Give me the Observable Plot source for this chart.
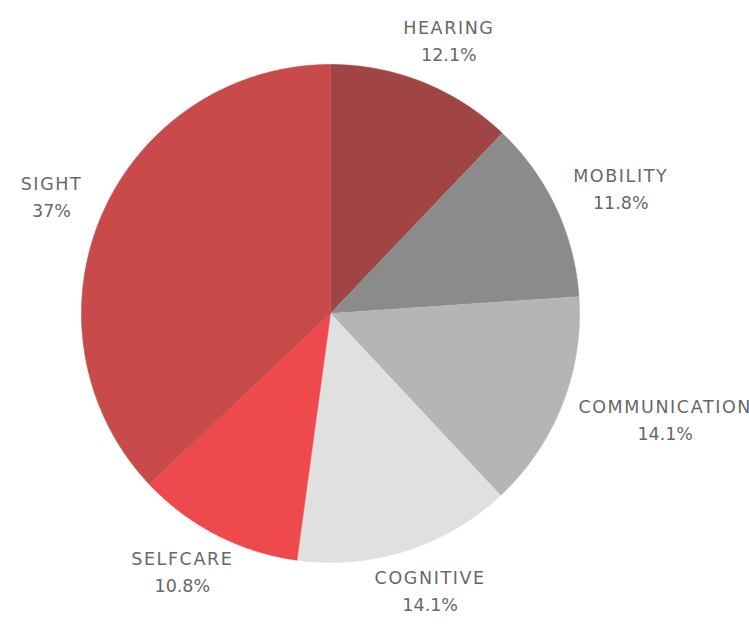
<!DOCTYPE html>
<html><head><meta charset="utf-8">
<script src="https://cdn.jsdelivr.net/npm/d3@7"></script>
<script src="https://cdn.jsdelivr.net/npm/@observablehq/plot@0.6"></script>
<style>body{margin:0;background:#fff;overflow:hidden}</style>
</head><body><div id="chart"></div>
<script>
const categories = ["HEARING", "MOBILITY", "COMMUNICATION", "COGNITIVE", "SELFCARE", "SIGHT"];
const values = [12.1, 11.8, 14.1, 14.1, 10.8, 37];
const valueLabels = ["12.1%", "11.8%", "14.1%", "14.1%", "10.8%", "37%"];
const colors = ["#a04446", "#8b8b8b", "#b5b5b5", "#e0e0e0", "#ee494c", "#c84a4b"];

const W = 749, H = 624, cx = 330, cy = 313, R = 249;
const FONT = "DejaVu Sans", FS = 17.5, LS = 1.6, LINE = 27;

const arcs = d3.pie().sort(null).value(d => d)(values);
const pts = [];
arcs.forEach((p, i) => {
  const n = Math.max(2, Math.ceil((p.endAngle - p.startAngle) / (Math.PI / 360)));
  pts.push({name: categories[i], x: 0, y: 0});
  for (let k = 0; k <= n; k++) {
    const a = p.startAngle + (p.endAngle - p.startAngle) * k / n;
    pts.push({name: categories[i], x: Math.sin(a), y: Math.cos(a)});
  }
});

const ctx = document.createElement("canvas").getContext("2d");
ctx.font = `${FS}px '${FONT}'`;
const gapX = 24, gapY = 19, boxH = LINE * 2 - 6;
const labels = arcs.map((p, i) => {
  const m = (p.startAngle + p.endAngle) / 2;
  const dx = Math.sin(m), dy = Math.cos(m);
  const wName = ctx.measureText(categories[i]).width + LS * categories[i].length;
  const w = Math.max(wName, ctx.measureText(valueLabels[i]).width);
  const px = dx * (R + gapX) + dx * w / 2;
  const py = dy * (R + gapY) + dy * boxH / 2;
  return {x: px / R, y: py / R, name: categories[i], value: valueLabels[i]};
});

const chart = Plot.plot({
  width: W, height: H,
  margin: 0,
  x: {domain: [-cx / R, (W - cx) / R], axis: null},
  y: {domain: [-(H - cy) / R, cy / R], axis: null},
  color: {domain: categories, range: colors},
  style: {background: "#fff"},
  marks: [
    Plot.line(pts, {x: "x", y: "y", z: "name", fill: "name", stroke: "name", strokeWidth: 0.6, curve: "linear"}),
    Plot.text(labels, {x: "x", y: "y", text: "name", dy: -LINE / 2, fill: "#686868", fontSize: FS, fontFamily: FONT}),
    Plot.text(labels, {x: "x", y: "y", text: "value", dy: LINE / 2, fill: "#686868", fontSize: FS, fontFamily: FONT})
  ]
});
d3.select(chart).selectAll("text").filter(function() { return categories.includes(this.textContent); })
  .attr("letter-spacing", LS);
document.getElementById("chart").appendChild(chart);
</script>
</body></html>
